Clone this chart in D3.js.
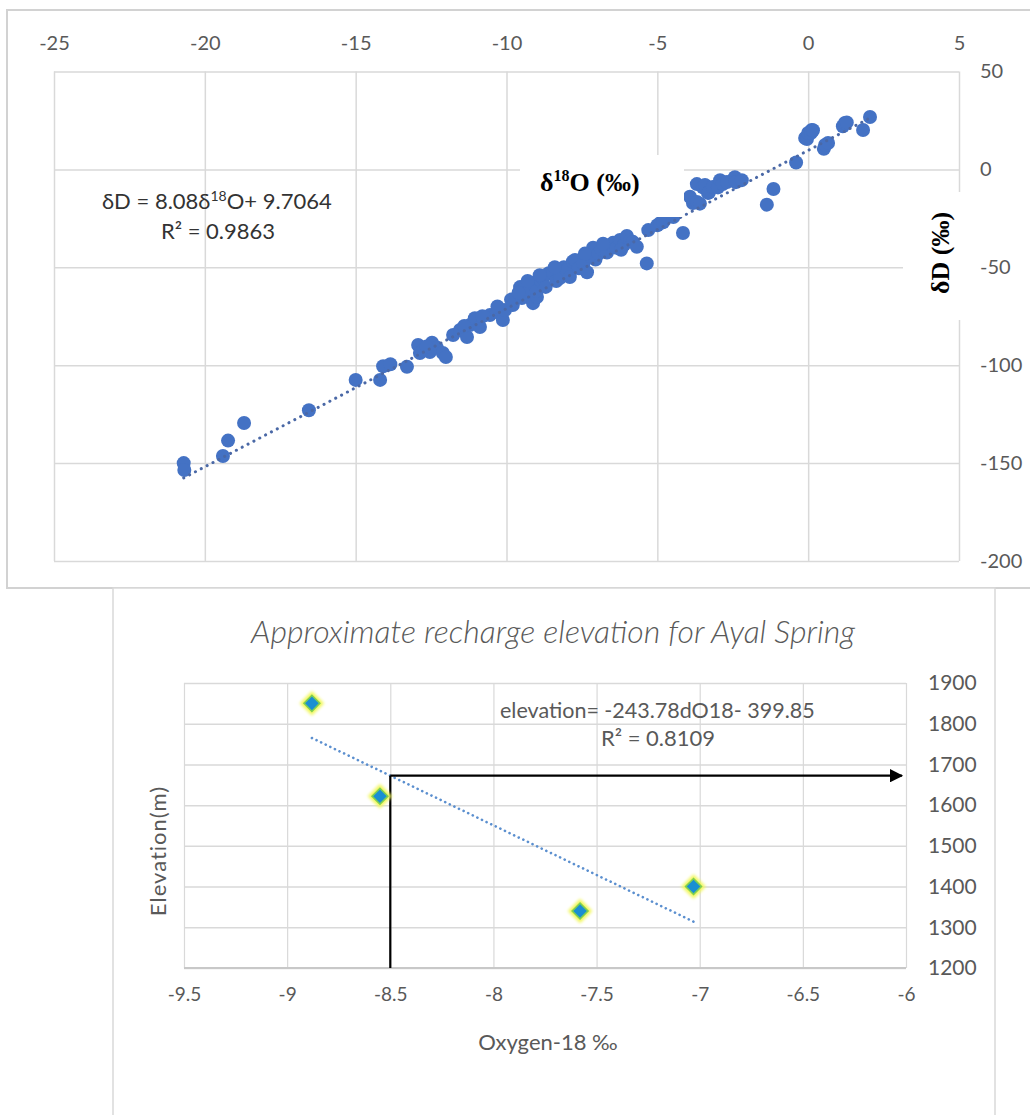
<!DOCTYPE html>
<html>
<head>
<meta charset="utf-8">
<script src="https://cdn.jsdelivr.net/npm/d3@7"></script>
<style>
  body { margin: 0; background: #fff; }
  svg { display: block; }
</style>
</head>
<body>
<svg id="fig" width="1030" height="1115"></svg>
<script>
// ---- Upper panel: δ18O vs δD of sampled waters ----
const o18 = [
  -20.7, -20.68, -19.4, -19.23, -18.7, -16.55, -15.0, -14.19, -14.09, -13.85, -13.3,
  -12.93, -12.77, -12.47, -12.31, -12.11, -12.01, -12.87, -12.54, -12.65,
  -11.77, -11.54, -11.31, -11.21, -11.05, -10.88, -10.55, -10.32, -10.12, -10.05,
  -9.85, -9.79, -9.55, -9.49, -9.32, -9.12, -8.96, -8.99,
  -9.12, -9.0, -8.85, -8.79, -8.7, -8.6, -8.46, -8.35, -8.23, -8.1, -8.0, -7.9,
  -7.8, -7.73, -7.6, -7.45, -7.33, -7.25, -7.13, -7.05, -6.95, -6.85, -6.67,
  -6.55, -6.47, -6.35, -6.24, -6.1, -6.01, -5.9, -5.81, -5.68, -5.35,
  -5.3, -5.0, -4.9, -4.81, -4.47, -4.15, -3.92, -3.82, -3.69, -3.59, -3.69,
  -3.49, -3.42, -3.32, -3.29, -3.16, -2.99, -2.92, -2.83, -2.69, -2.43, -2.4, -2.2,
  -1.37, -1.15, -0.4, -0.1, -0.04, 0.0, 0.09, 0.12, 0.16, 0.52, 0.56, 0.66,
  1.15, 1.22, 1.28, 1.82, 2.05,
  -11.4, -10.8, -10.3, -9.6, -9.3, -8.9, -8.4, -7.4, -6.8, -6.2
];
const dD = [
  -150, -153.5, -146.4, -138.5, -129.5, -123, -107.5, -107.5, -100.5, -99.5, -100.8,
  -89.7, -92.3, -88.5, -91, -93.8, -95.8, -93.8, -93.3, -90.5,
  -84.6, -82, -85.6, -79.5, -76, -80.5, -74.4, -72.8, -76.9, -71.8,
  -66.5, -69.3, -60.1, -65.7, -63.2, -68.3, -60.6, -65.2,
  -58, -62, -57, -55.5, -60, -53, -53, -57, -55.5, -50, -51.5, -55,
  -47, -46.3, -50.5, -48, -52.5, -44, -40, -46, -43, -41, -42.5,
  -38.5, -37.5, -40, -36, -38.5, -34, -36.5, -37, -39.5, -48,
  -31, -28.5, -27.4, -27, -24.3, -32.5, -14, -17.2, -16.6, -17.5, -7.5,
  -9.2, -8, -12, -11.8, -9, -9.2, -5.5, -7.5, -6.4, -4, -6.5, -5.5,
  -18, -10, 3.5, 16, 15.5, 18.6, 18.6, 20.1, 20, 10.5, 12.5, 13.5,
  22, 23.7, 24, 20.1, 26.8,
  -80, -75, -70, -63, -57, -54, -50, -43, -38, -41
];
const upperXTicks = [-25, -20, -15, -10, -5, 0, 5];
const upperYTicks = [50, 0, -50, -100, -150, -200];
const upperFit = [8.08, 9.7064];      // slope, intercept
const upperR2 = "0.9863";

// ---- Lower panel: recharge elevation for Ayal Spring ----
const springO18 = [-8.88, -8.55, -7.58, -7.03];
const springElev = [1850, 1622, 1340, 1400];
const lowerXTicks = [-9.5, -9, -8.5, -8, -7.5, -7, -6.5, -6];
const lowerYTicks = [1900, 1800, 1700, 1600, 1500, 1400, 1300, 1200];
const lowerFit = [-243.78, -399.85];  // slope, intercept
const lowerR2 = "0.8109";
const readO18 = -8.5;                 // value
const arrowEnd = -6.02;

const svg = d3.select("#fig");
const tickFont = "Lato, 'Open Sans', sans-serif";
const grid = "#d9d9d9";
const tickColor = "#595959";
const plain = d => String(d);         // hyphen minus, no thousands separator

// ================= upper panel =================
svg.append("rect").attr("x", 7).attr("y", 10).attr("width", 1040).attr("height", 578)
  .attr("fill", "#fff").attr("stroke", "#d2d2d2").attr("stroke-width", 2);

const ux = d3.scaleLinear().domain([-25, 5]).range([54, 959]);
const uy = d3.scaleLinear().domain([50, -200]).range([71.5, 561]);
const up = svg.append("g");

// gridlines
up.append("g").attr("transform", `translate(0,${uy(-200)})`)
  .call(d3.axisBottom(ux).tickValues(upperXTicks).tickSize(-(uy(-200) - uy(50))).tickFormat(""))
  .call(g => g.select(".domain").remove())
  .call(g => g.selectAll("line").attr("stroke", grid).attr("stroke-width", 1.5));
up.append("g").attr("transform", `translate(${ux(-25)},0)`)
  .call(d3.axisLeft(uy).tickValues(upperYTicks).tickSize(-(ux(5) - ux(-25))).tickFormat(""))
  .call(g => g.select(".domain").remove())
  .call(g => g.selectAll("line").attr("stroke", grid).attr("stroke-width", 1.5));

// tick labels: x on top, y on the right
up.append("g").attr("transform", "translate(0,50)")
  .call(d3.axisTop(ux).tickValues(upperXTicks).tickSize(0).tickPadding(0).tickFormat(plain))
  .call(g => g.select(".domain").remove())
  .call(g => g.selectAll("text").attr("font-family", tickFont).attr("font-size", 20)
    .attr("fill", tickColor).attr("dy", "0"));
up.append("g").attr("transform", "translate(980,0)")
  .call(d3.axisRight(uy).tickValues(upperYTicks).tickSize(0).tickPadding(0).tickFormat(plain))
  .call(g => g.select(".domain").remove())
  .call(g => g.selectAll("text").attr("font-family", tickFont).attr("font-size", 20)
    .attr("fill", tickColor).attr("text-anchor", "start"));

// samples
const pts = o18.map((v, i) => [v, dD[i]]);
up.append("g").selectAll("circle").data(pts).join("circle")
  .attr("cx", d => ux(d[0])).attr("cy", d => uy(d[1])).attr("r", 7)
  .attr("fill", "#4472c4");

// linear fit, dotted
const uxExt = d3.extent(o18);
up.append("line")
  .attr("x1", ux(uxExt[0])).attr("y1", uy(upperFit[0] * uxExt[0] + upperFit[1]))
  .attr("x2", ux(uxExt[1])).attr("y2", uy(upperFit[0] * uxExt[1] + upperFit[1]))
  .attr("stroke", "#4a68a6").attr("stroke-width", 3)
  .attr("stroke-linecap", "round").attr("stroke-dasharray", "0.1 6.5");

// fit equation
const eq = up.append("text").attr("x", 102).attr("y", 209)
  .attr("font-family", tickFont).attr("font-size", 22).attr("fill", "#333");
eq.append("tspan").text(`δD = ${upperFit[0].toFixed(2)}δ`);
eq.append("tspan").attr("font-size", 14).attr("dy", -8).text("18");
eq.append("tspan").attr("dy", 8).text(`O+ ${upperFit[1]}`);
up.append("text").attr("x", 218).attr("y", 239).attr("text-anchor", "middle")
  .attr("font-family", tickFont).attr("font-size", 22).attr("fill", "#333")
  .text(`R² = ${upperR2}`);

// axis titles on white boxes
up.append("rect").attr("x", 520).attr("y", 155).attr("width", 164).attr("height", 62).attr("fill", "#fff");
const xt = up.append("text").attr("x", 540).attr("y", 191)
  .attr("font-family", "'Liberation Serif', 'Times New Roman', serif")
  .attr("font-weight", "bold").attr("font-size", 26).attr("fill", "#000");
xt.append("tspan").text("δ");
xt.append("tspan").attr("font-size", 16).attr("dy", -10).text("18");
xt.append("tspan").attr("dy", 10).text("O (‰)");

up.append("rect").attr("x", 903).attr("y", 192).attr("width", 62).attr("height", 128).attr("fill", "#fff");
up.append("text").attr("transform", "translate(949,253) rotate(-90)")
  .attr("text-anchor", "middle")
  .attr("font-family", "'Liberation Serif', 'Times New Roman', serif")
  .attr("font-weight", "bold").attr("font-size", 26).attr("fill", "#000")
  .text("δD (‰)");

// ================= lower panel =================
svg.append("rect").attr("x", 113).attr("y", 588).attr("width", 882).attr("height", 560)
  .attr("fill", "#fff").attr("stroke", "#d9d9d9").attr("stroke-width", 1.5);

const lx = d3.scaleLinear().domain([-9.5, -6]).range([184, 906]);
const ly = d3.scaleLinear().domain([1900, 1200]).range([683, 968]);
const lo = svg.append("g");

lo.append("g").attr("transform", `translate(0,${ly(1200)})`)
  .call(d3.axisBottom(lx).tickValues(lowerXTicks).tickSize(-(ly(1200) - ly(1900))).tickFormat(""))
  .call(g => g.select(".domain").remove())
  .call(g => g.selectAll("line").attr("stroke", grid).attr("stroke-width", 1.2));
lo.append("g").attr("transform", `translate(${lx(-9.5)},0)`)
  .call(d3.axisLeft(ly).tickValues(lowerYTicks).tickSize(-(lx(-6) - lx(-9.5))).tickFormat(""))
  .call(g => g.select(".domain").remove())
  .call(g => g.selectAll("line").attr("stroke", grid).attr("stroke-width", 1.5));
// baseline axis
lo.append("line").attr("x1", lx(-9.5)).attr("x2", lx(-6))
  .attr("y1", ly(1200)).attr("y2", ly(1200)).attr("stroke", "#c8c8c8").attr("stroke-width", 2);

lo.append("g").attr("transform", `translate(0,${ly(1200) + 26})`)
  .call(d3.axisBottom(lx).tickValues(lowerXTicks).tickSize(0).tickPadding(0).tickFormat(plain))
  .call(g => g.select(".domain").remove())
  .call(g => g.selectAll("text").attr("font-family", tickFont).attr("font-size", 19)
    .attr("fill", tickColor).attr("dy", "0.35em"));
lo.append("g").attr("transform", "translate(928,0)")
  .call(d3.axisRight(ly).tickValues(lowerYTicks).tickSize(0).tickPadding(0).tickFormat(plain))
  .call(g => g.select(".domain").remove())
  .call(g => g.selectAll("text").attr("font-family", tickFont).attr("font-size", 21)
    .attr("fill", tickColor).attr("text-anchor", "start"));

// title and axis titles
lo.append("text").attr("x", 553).attr("y", 643).attr("text-anchor", "middle")
  .attr("font-family", tickFont).attr("font-style", "italic").attr("font-weight", 300)
  .attr("font-size", 32).attr("fill", tickColor)
  .text("Approximate recharge elevation for Ayal Spring");
lo.append("text").attr("transform", "translate(166,851) rotate(-90)")
  .attr("text-anchor", "middle").attr("font-family", tickFont).attr("font-size", 22)
  .attr("letter-spacing", 1).attr("fill", tickColor).text("Elevation(m)");
lo.append("text").attr("x", 548).attr("y", 1050).attr("text-anchor", "middle")
  .attr("font-family", tickFont).attr("font-size", 22).attr("fill", tickColor)
  .text("Oxygen-18 ‰");

// fit line, dotted
const lxExt = d3.extent(springO18);
const elevAt = v => lowerFit[0] * v + lowerFit[1];
lo.append("line")
  .attr("x1", lx(lxExt[0])).attr("y1", ly(elevAt(lxExt[0])))
  .attr("x2", lx(lxExt[1])).attr("y2", ly(elevAt(lxExt[1])))
  .attr("stroke", "#5b8fcf").attr("stroke-width", 2.6)
  .attr("stroke-linecap", "round").attr("stroke-dasharray", "0.1 5");

// reading arrow: vertical at the O-18 value, horizontal to the elevation axis
const defs = svg.append("defs");
defs.append("marker").attr("id", "head").attr("viewBox", "0 0 10 10")
  .attr("refX", 9).attr("refY", 5).attr("markerWidth", 7).attr("markerHeight", 6)
  .attr("markerUnits", "strokeWidth").attr("orient", "auto")
  .append("path").attr("d", "M0,0 L10,5 L0,10 Z").attr("fill", "#000");
defs.append("filter").attr("id", "glow").attr("x", "-50%").attr("y", "-50%")
  .attr("width", "200%").attr("height", "200%")
  .append("feGaussianBlur").attr("stdDeviation", 1.8);

const readElev = elevAt(readO18);
lo.append("line").attr("x1", lx(readO18)).attr("x2", lx(readO18))
  .attr("y1", ly(1200)).attr("y2", ly(readElev))
  .attr("stroke", "#000").attr("stroke-width", 2.2);
lo.append("line").attr("x1", lx(readO18)).attr("x2", lx(arrowEnd))
  .attr("y1", ly(readElev)).attr("y2", ly(readElev))
  .attr("stroke", "#000").attr("stroke-width", 2.2).attr("marker-end", "url(#head)");

// spring samples: glowing diamonds
const spr = springO18.map((v, i) => [v, springElev[i]]);
const sym = d3.symbol(d3.symbolSquare);
lo.append("g").selectAll("path").data(spr).join("path")
  .attr("transform", d => `translate(${lx(d[0])},${ly(d[1])}) rotate(45)`)
  .attr("d", sym.size(300)).attr("fill", "#f1f75a").attr("filter", "url(#glow)");
lo.append("g").selectAll("path").data(spr).join("path")
  .attr("transform", d => `translate(${lx(d[0])},${ly(d[1])}) rotate(45)`)
  .attr("d", sym.size(125)).attr("fill", "#1a8fd2").attr("stroke", "#7fcf52").attr("stroke-width", 1.6);

// fit equation
lo.append("text").attr("x", 500).attr("y", 718)
  .attr("font-family", tickFont).attr("font-size", 21.5).attr("fill", tickColor)
  .text(`elevation= ${lowerFit[0]}dO18- ${Math.abs(lowerFit[1])}`);
lo.append("text").attr("x", 658).attr("y", 746).attr("text-anchor", "middle")
  .attr("font-family", tickFont).attr("font-size", 22).attr("fill", tickColor)
  .text(`R² = ${lowerR2}`);
</script>
</body>
</html>
